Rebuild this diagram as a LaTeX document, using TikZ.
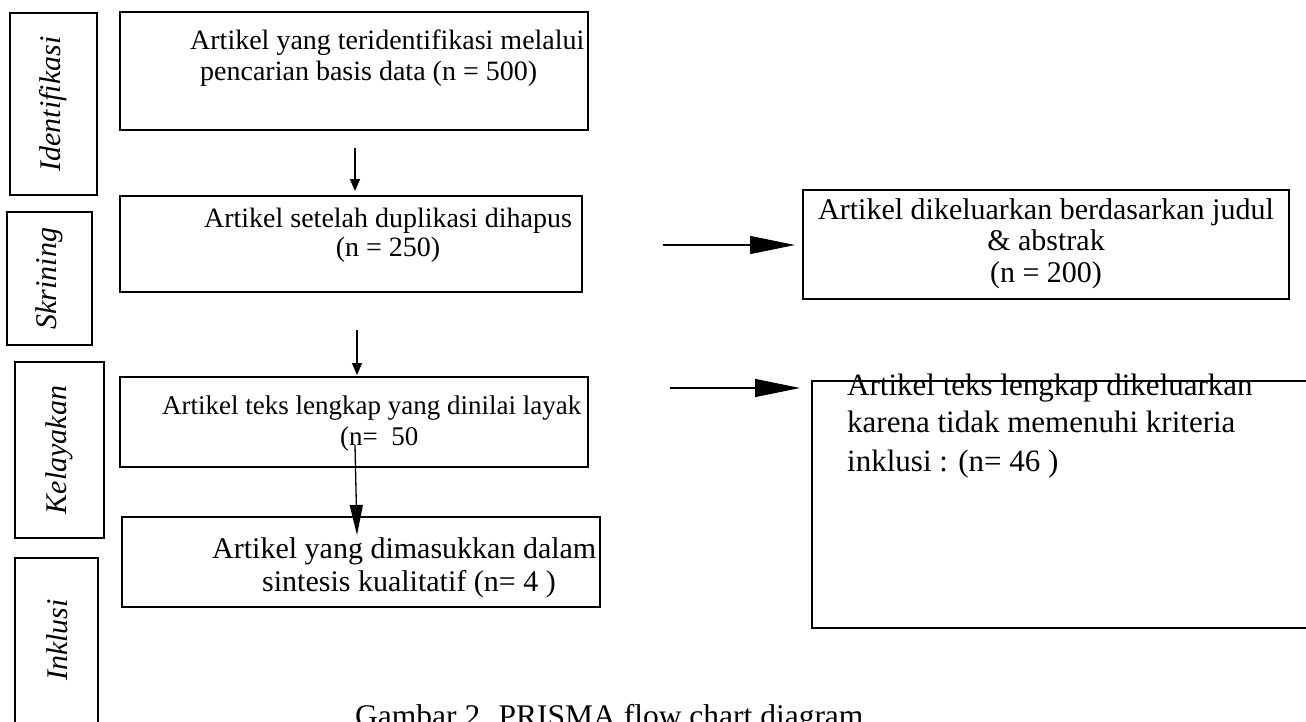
\documentclass[tikz,border=0pt]{standalone}
\usepackage{fontspec}
\setmainfont{Liberation Serif}
\usetikzlibrary{arrows.meta}
\begin{document}
\begin{tikzpicture}[x=1pt,y=-1pt,
  box/.style={draw, line width=1.4pt, inner sep=0pt, outer sep=0pt, anchor=north west},
  lbl/.style={font=\fontsize{30}{30}\selectfont\itshape, rotate=90, inner sep=0pt},
  txt/.style={font=\fontsize{28}{31}\selectfont, inner sep=0pt},
  arr/.style={line width=1.3pt, -{Triangle[length=12pt,width=10pt]}},
  longarr/.style={line width=1.3pt, -{Triangle[length=30pt,width=13pt]}},
  harr/.style={line width=1.3pt, -{Triangle[length=45pt,width=18pt]}}]
\useasboundingbox (0,0) rectangle (1306,721);
\fill[white] (0,0) rectangle (1306,721);
% stage label boxes
\node[box, minimum width=87pt, minimum height=182pt] (lid) at (10,13) {};
\node[box, minimum width=85pt, minimum height=133pt] (lsk) at (7,212) {};
\node[box, minimum width=89pt, minimum height=176pt] (lke) at (15,362) {};
\node[box, minimum width=83pt, minimum height=220pt] (lin) at (15,558) {};
\node[lbl] (tid) at (lid.center) {Identifikasi};
\node[lbl] (tsk) at (lsk.center) {Skrining};
\node[lbl] (tke) at (lke.center) {Kelayakan};
\node[lbl] (tin) at (57,640) {Inklusi};
% main boxes
\node[box, minimum width=468pt, minimum height=118pt] (b1) at (120,12) {};
\node[box, minimum width=462pt, minimum height=96pt] (b2) at (120,196) {};
\node[box, minimum width=486pt, minimum height=109pt] (b3) at (803,190) {};
\node[box, minimum width=468pt, minimum height=90pt] (b4) at (120,377) {};
\node[box, minimum width=530pt, minimum height=247pt] (b5) at (812,381) {};
\node[box, minimum width=478pt, minimum height=90pt] (b6) at (122,517) {};
% texts
\node[txt, anchor=base west] (t1a) at (190,49) {Artikel yang teridentifikasi melalui};
\node[txt, anchor=base west] (t1b) at (200,80) {pencarian basis data (n = 500)};
\node[txt, anchor=base] (t2a) at (388,227) {Artikel setelah duplikasi dihapus};
\node[txt, anchor=base] (t2b) at (388,256) {(n = 250)};
\node[txt, font=\fontsize{30}{31}\selectfont, anchor=base] (t3a) at (1046,219) {Artikel dikeluarkan berdasarkan judul};
\node[txt, font=\fontsize{30}{31}\selectfont, anchor=base] (t3b) at (1046,250) {\& abstrak};
\node[txt, font=\fontsize{30}{31}\selectfont, anchor=base] (t3c) at (1046,282) {(n = 200)};
\node[txt, font=\fontsize{27}{31}\selectfont, anchor=base west] (t4a) at (162,414) {Artikel teks lengkap yang dinilai layak};
\node[txt, font=\fontsize{27}{31}\selectfont, anchor=base west] (t4b) at (340,445) {(n=\ \ 50};
\node[txt, font=\fontsize{31}{31}\selectfont, anchor=base west] (t5a) at (847,395) {Artikel teks lengkap dikeluarkan};
\node[txt, font=\fontsize{31}{31}\selectfont, anchor=base west] (t5b) at (847,432) {karena tidak memenuhi kriteria};
\node[txt, font=\fontsize{31}{31}\selectfont, anchor=base west] (t5c) at (847,471) {inklusi : (n= 46 )};
\node[txt, font=\fontsize{30}{31}\selectfont, anchor=base west] (t6a) at (212,558) {Artikel yang dimasukkan dalam};
\node[txt, font=\fontsize{30}{31}\selectfont, anchor=base west] (t6b) at (262,591) {sintesis kualitatif (n= 4 )};
\node[txt, font=\fontsize{31.5}{31}\selectfont, anchor=base west] (cap) at (355,726) {Gambar 2. PRISMA flow chart diagram};
% arrow end points
\coordinate (a1s) at (355,148);
\coordinate (a1e) at (355,191);
\coordinate (a2s) at (357,330);
\coordinate (a2e) at (357,375);
\coordinate (a3s) at (355,445);
\coordinate (a3e) at (357,535);
\coordinate (hAs) at (663,245);
\coordinate (hAe) at (795,245);
\coordinate (hBs) at (670,388);
\coordinate (hBe) at (800,388);
\draw[arr] (a1s) -- (a1e);
\draw[arr] (a2s) -- (a2e);
\draw[longarr] (a3s) -- (a3e);
\draw[harr] (hAs) -- (hAe);
\draw[harr] (hBs) -- (hBe);
\end{tikzpicture}
\end{document}
